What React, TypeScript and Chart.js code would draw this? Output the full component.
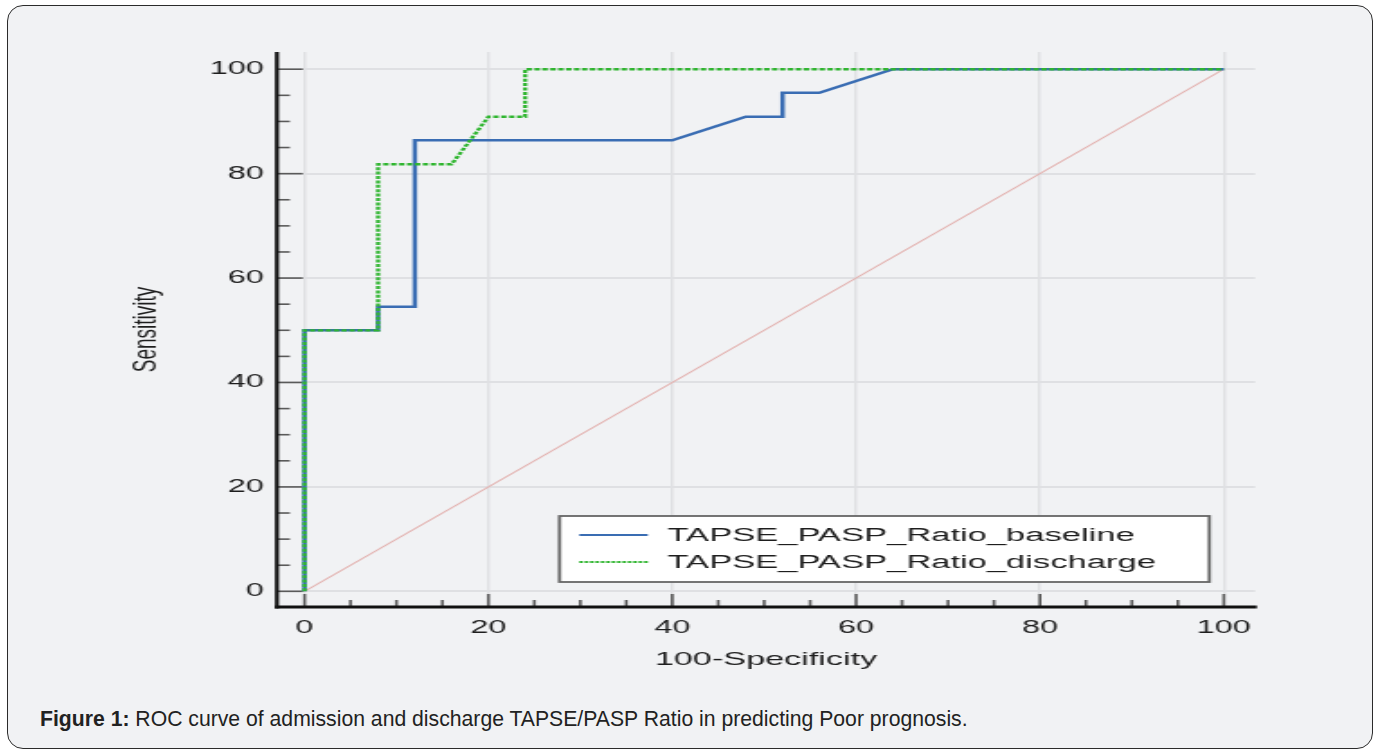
import React, { useEffect, useRef } from 'react';
import { Chart, registerables } from 'chart.js';

Chart.register(...registerables);

// ---- data ----
const baselineFpr = [0, 0, 8, 8, 12, 12, 40, 48, 52, 52, 56, 64, 100];
const baselineSens = [0, 50, 50, 54.5, 54.5, 86.4, 86.4, 90.9, 90.9, 95.5, 95.5, 100, 100];
const dischargeFpr = [0, 0, 8, 8, 16, 20, 24, 24, 100];
const dischargeSens = [0, 50, 50, 81.8, 81.8, 90.9, 90.9, 100, 100];
const chanceFpr = [0, 100];
const chanceSens = [0, 100];

const seriesLabels = ['TAPSE_PASP_Ratio_baseline', 'TAPSE_PASP_Ratio_discharge'];
const majorTicks = [0, 20, 40, 60, 80, 100];
const minorTicks = [5, 10, 15, 25, 30, 35, 45, 50, 55, 65, 70, 75, 85, 90, 95];
const xTitle = '100-Specificity';
const yTitle = 'Sensitivity';

// ---- styling ----
const FONT = "'Liberation Sans', Arial, Helvetica, sans-serif";
const BLUE = '#3a6db3';
const GREEN = '#2fb52f';
const CHANCE = '#e3b3b1';
const GRID = '#dfe0e3';
const STRETCH = 1.8; // the figure is horizontally stretched
const CW = 670;
const CH = 660;

const toPts = (xs: number[], ys: number[]) => xs.map((x, i) => ({ x, y: ys[i] }));

const axesPlugin = {
  id: 'rocAxes',
  beforeDatasetsDraw(chart: any) {
    const { ctx, chartArea } = chart;
    const { left, right, top, bottom } = chartArea;
    const xs = chart.scales.x;
    const ys = chart.scales.y;
    ctx.save();
    // tick marks (pointing inside)
    ctx.strokeStyle = '#5a5a5a';
    ctx.lineWidth = 1.6;
    const all = [...majorTicks.map((v) => [v, 1]), ...minorTicks.map((v) => [v, 0])];
    for (const [v, major] of all) {
      const px = xs.getPixelForValue(v);
      ctx.beginPath();
      ctx.moveTo(px, bottom);
      ctx.lineTo(px, bottom - (major ? 13 : 7));
      ctx.stroke();
      const py = ys.getPixelForValue(v);
      ctx.beginPath();
      ctx.moveTo(left, py);
      ctx.lineTo(left + (major ? 14.4 : 7.2), py);
      ctx.stroke();
    }
    // axis lines
    ctx.strokeStyle = '#111';
    ctx.lineWidth = 2.2;
    ctx.beginPath();
    ctx.moveTo(left, top);
    ctx.lineTo(left, bottom + 1.5);
    ctx.stroke();
    ctx.lineWidth = 3;
    ctx.beginPath();
    ctx.moveTo(left - 1, bottom);
    ctx.lineTo(right + 1, bottom);
    ctx.stroke();
    ctx.restore();
  },
  afterDatasetsDraw(chart: any) {
    const { ctx, chartArea } = chart;
    const bx = chartArea.left + 157;
    const by = chartArea.bottom - 91;
    const bw = 361;
    const bh = 66;
    ctx.save();
    ctx.fillStyle = '#ffffff';
    ctx.fillRect(bx, by, bw, bh);
    ctx.strokeStyle = '#666';
    ctx.lineWidth = 1.8;
    ctx.strokeRect(bx, by, bw, bh);
    const colors = [BLUE, GREEN];
    const dashes = [[], [2, 1]];
    seriesLabels.forEach((label, i) => {
      const y = by + 19 + i * 27;
      ctx.strokeStyle = colors[i];
      ctx.lineWidth = 2;
      ctx.setLineDash(dashes[i]);
      ctx.beginPath();
      ctx.moveTo(bx + 11, y);
      ctx.lineTo(bx + 49, y);
      ctx.stroke();
      ctx.setLineDash([]);
      ctx.fillStyle = '#1e1e1e';
      ctx.font = `19.2px ${FONT}`;
      ctx.textBaseline = 'middle';
      ctx.textAlign = 'left';
      ctx.fillText(label, bx + 60, y + 1);
    });
    ctx.restore();
  },
};

export default function App() {
  const ref = useRef<HTMLCanvasElement>(null);

  useEffect(() => {
    const canvas = ref.current;
    if (!canvas) return;
    const majorOnly = (scale: any) => {
      scale.ticks = majorTicks.map((v) => ({ value: v }));
    };
    const chart = new Chart(canvas, {
      type: 'line',
      data: {
        datasets: [
          {
            label: seriesLabels[1],
            data: toPts(dischargeFpr, dischargeSens),
            borderColor: GREEN,
            borderWidth: 2.3,
            borderDash: [3, 1.4],
            pointRadius: 0,
            tension: 0,
            order: 0,
          },
          {
            label: seriesLabels[0],
            data: toPts(baselineFpr, baselineSens),
            borderColor: BLUE,
            borderWidth: 2.5,
            pointRadius: 0,
            tension: 0,
            order: 1,
          },
          {
            label: 'chance',
            data: toPts(chanceFpr, chanceSens),
            borderColor: CHANCE,
            borderWidth: 1.1,
            pointRadius: 0,
            tension: 0,
            order: 2,
          },
        ],
      },
      options: {
        animation: false,
        responsive: false,
        devicePixelRatio: 1,
        events: [],
        layout: { padding: { left: 0, right: 28.3, top: 22, bottom: 0 } },
        plugins: {
          legend: { display: false },
          tooltip: { enabled: false },
        },
        scales: {
          x: {
            type: 'linear',
            min: -3,
            max: 103.4,
            afterBuildTicks: majorOnly,
            afterFit: (s: any) => {
              s.height = 83;
            },
            grid: { color: GRID, lineWidth: 1.5, drawTicks: false },
            border: { display: false },
            ticks: {
              padding: 10,
              color: '#1e1e1e',
              font: { family: FONT, size: 18 },
              maxRotation: 0,
              callback: (v: any) => String(v),
            },
            title: {
              display: true,
              text: xTitle,
              color: '#1e1e1e',
              font: { family: FONT, size: 19 },
              padding: { top: 0, bottom: 18.6 },
            },
          },
          y: {
            type: 'linear',
            min: -3,
            max: 103.3,
            afterBuildTicks: majorOnly,
            afterFit: (s: any) => {
              s.width = 98.3;
            },
            grid: { color: GRID, lineWidth: 2, drawTicks: false },
            border: { display: false },
            ticks: {
              padding: 7.2,
              color: '#1e1e1e',
              font: { family: FONT, size: 18 },
              callback: (v: any) => String(v),
            },
            title: {
              display: true,
              text: yTitle,
              color: '#1e1e1e',
              font: { family: FONT, size: 19 },
              padding: { top: 14.2, bottom: 0 },
            },
          },
        },
      },
      plugins: [axesPlugin],
    } as any);
    return () => chart.destroy();
  }, []);

  return (
    <div
      style={{
        position: 'absolute',
        left: 0,
        top: 0,
        width: 1378,
        height: 753,
        background: '#ffffff',
        overflow: 'hidden',
      }}
    >
      <div
        style={{
          position: 'absolute',
          left: 7,
          top: 5,
          width: 1366,
          height: 744,
          boxSizing: 'border-box',
          border: '1.5px solid #2b2b2b',
          borderRadius: 16,
          background: '#f1f2f4',
        }}
      />
      <canvas
        ref={ref}
        width={CW}
        height={CH}
        style={{
          position: 'absolute',
          left: 100,
          top: 30,
          width: CW * STRETCH,
          height: CH,
        }}
      />
      <div
        style={{
          position: 'absolute',
          left: 40,
          top: 707,
          fontFamily: FONT,
          fontSize: 21.2,
          lineHeight: '24px',
          color: '#222',
          whiteSpace: 'nowrap',
        }}
      >
        <b>Figure 1:</b> ROC curve of admission and discharge TAPSE/PASP Ratio in predicting Poor prognosis.
      </div>
    </div>
  );
}
